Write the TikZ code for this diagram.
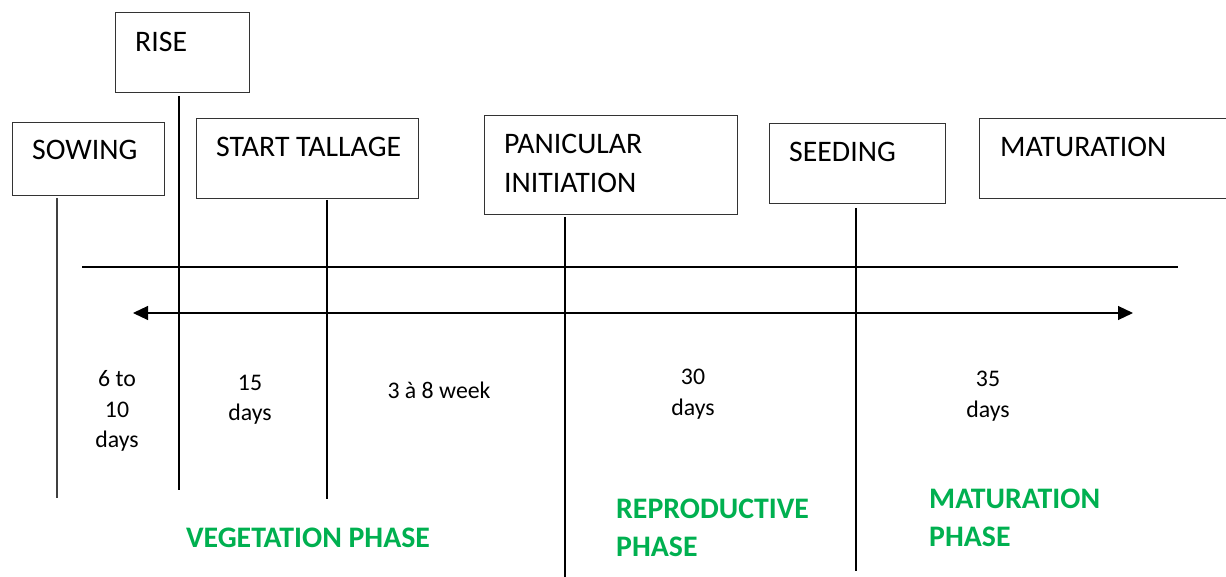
\documentclass[tikz,border=0pt]{standalone}
\usepackage{fontspec}
\setmainfont{Carlito}
\usetikzlibrary{arrows.meta}
\definecolor{phasegreen}{HTML}{00B050}
\tikzset{
  stagebox/.style={draw=black!80,line width=1pt,anchor=north west,inner sep=0pt},
  stagelabel/.style={anchor=base west,inner sep=0pt,font=\fontsize{29.8}{39}\selectfont},
  durlabel/.style={align=center,inner sep=0pt,font=\fontsize{23.8}{30.5}\selectfont},
  phaselabel/.style={align=left,inner sep=0pt,text=phasegreen,font=\fontsize{29.8}{38.5}\selectfont\bfseries},
  tick/.style={line width=1.1pt},
  axis/.style={line width=1.1pt}
}
\begin{document}
\begin{tikzpicture}[x=1pt,y=-1pt]
\useasboundingbox (0,0) rectangle (1226,577);
\clip (0,0) rectangle (1226,577);
% boxes
\node[stagebox,minimum width=134,minimum height=80] (risebox) at (115,12) {};
\node[stagebox,minimum width=152,minimum height=73] (sowbox) at (12,122) {};
\node[stagebox,minimum width=222,minimum height=80] (tallbox) at (196,118) {};
\node[stagebox,minimum width=253,minimum height=99] (panbox) at (484,115) {};
\node[stagebox,minimum width=176,minimum height=80] (seedbox) at (769,123) {};
\node[stagebox,minimum width=280,minimum height=80] (matbox) at (979,118) {};
% box labels
\node[stagelabel] (risetxt) at (135,52) {RISE};
\node[stagelabel] (sowtxt) at (32,160) {SOWING};
\node[stagelabel] (talltxt) at (216,157) {START TALLAGE};
\node[stagelabel] (pantxt) at (504,154) {PANICULAR};
\node[stagelabel] (inittxt) at (504,193) {INITIATION};
\node[stagelabel] (seedtxt) at (789,162) {SEEDING};
\node[stagelabel] (mattxt) at (1000,157) {MATURATION};
% line ends
\coordinate (sowE) at (57,498);
\coordinate (riseE) at (179,490);
\coordinate (tallE) at (327,499);
\coordinate (panE) at (565,580);
\coordinate (seedE) at (856,571);
\draw[tick,black!75,line width=1.5pt] (sowbox.south -| sowE) ++(0,2) -- (sowE);
\draw[tick] (risebox.south -| riseE) ++(0,3) -- (riseE);
\draw[tick] (tallbox.south -| tallE) ++(0,1) -- (tallE);
\draw[tick] (panbox.south -| panE) ++(0,2) -- (panE);
\draw[tick] (seedbox.south -| seedE) ++(0,4) -- (seedE);
% horizontal lines
\coordinate (hl) at (82,267);
\coordinate (hr) at (1178,267);
\draw[axis] (hl) -- (hr);
\coordinate (al) at (133,313);
\coordinate (ar) at (1133,313);
\draw[axis,{Triangle[length=15pt,width=14pt]}-{Triangle[length=15pt,width=14pt]}] (al) -- (ar);
% durations
\node[durlabel] (d1) at (117,411) {6 to\\10\\days};
\node[durlabel] (d2) at (250,400) {15\\days};
\node[durlabel] (d3) at (439,390) {3 à 8 week};
\node[durlabel] (d4) at (693,394) {30\\days};
\node[durlabel] (d5) at (988,396) {35\\days};
% phases
\node[phaselabel] (vp) at (308,538) {VEGETATION PHASE};
\node[phaselabel,anchor=west] (rp) at (616,528) {REPRODUCTIVE\\PHASE};
\node[phaselabel,anchor=west] (mp) at (929,518) {MATURATION\\PHASE};
\end{tikzpicture}
\end{document}
